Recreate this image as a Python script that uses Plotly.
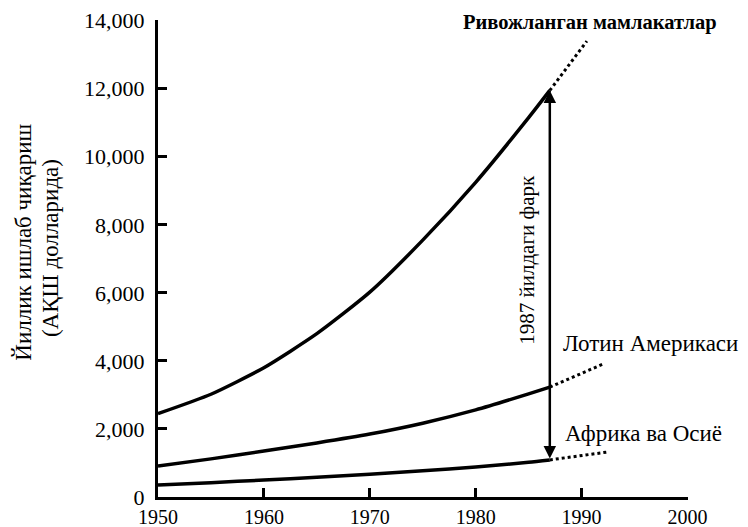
import plotly.graph_objects as go

# solid part of each curve
years = [1950, 1955, 1960, 1965, 1970, 1975, 1980, 1985, 1987]
developed = [2450, 3020, 3800, 4800, 6020, 7550, 9250, 11150, 11950]
latin_america = [910, 1120, 1350, 1590, 1850, 2170, 2560, 3030, 3230]
africa_asia = [350, 420, 500, 580, 670, 770, 880, 1020, 1090]

# dotted projections after 1987
dev_proj_years = [1987, 1990.5]
dev_proj = [11950, 13400]
la_proj_years = [1987, 1992.2]
la_proj = [3230, 3930]
af_proj_years = [1987, 1992.4]
af_proj = [1090, 1320]

x_ticks = [1950, 1960, 1970, 1980, 1990, 2000]
y_ticks = [0, 2000, 4000, 6000, 8000, 10000, 12000, 14000]
y_tick_text = ["0", "2,000", "4,000", "6,000", "8,000", "10,000", "12,000", "14,000"]

gap_year = 1987

FONT = "Liberation Serif, Times New Roman, serif"

fig = go.Figure()

for ys in (developed, latin_america, africa_asia):
    fig.add_trace(go.Scatter(x=years, y=ys, mode="lines",
                             line=dict(color="black", width=3.5,
                                       shape="spline", smoothing=0.6),
                             showlegend=False, hoverinfo="skip"))

for xs, ys in ((dev_proj_years, dev_proj), (la_proj_years, la_proj),
               (af_proj_years, af_proj)):
    fig.add_trace(go.Scatter(x=xs, y=ys, mode="lines",
                             line=dict(color="black", width=3, dash="dot"),
                             showlegend=False, hoverinfo="skip"))

# double headed arrow for the 1987 gap
fig.add_annotation(x=gap_year, y=developed[-1], ax=gap_year, ay=africa_asia[-1],
                   xref="x", yref="y", axref="x", ayref="y", text="",
                   showarrow=True, arrowhead=2, arrowsize=1, arrowwidth=2.5,
                   arrowside="end+start", arrowcolor="black")

fig.add_annotation(x=1984.9, y=6960, xref="x", yref="y",
                   text="1987 йилдаги фарк", textangle=-90, showarrow=False,
                   font=dict(family=FONT, size=21, color="black"))

fig.add_annotation(x=1978.6, y=13950, xref="x", yref="y",
                   text="<b>Ривожланган мамлакатлар</b>", xanchor="left",
                   showarrow=False,
                   font=dict(family=FONT, size=20.5, color="black"))
fig.add_annotation(x=1988.1, y=4520, xref="x", yref="y",
                   text="Лотин Америкаси", xanchor="left", showarrow=False,
                   font=dict(family=FONT, size=23, color="black"))
fig.add_annotation(x=1988.2, y=1880, xref="x", yref="y",
                   text="Африка ва Осиё", xanchor="left", showarrow=False,
                   font=dict(family=FONT, size=23, color="black"))

# y axis title, two lines
fig.add_annotation(x=-0.253, y=0.535, xref="paper", yref="paper",
                   text="Йиллик ишлаб чиқариш",
                   textangle=-90, showarrow=False, xanchor="center",
                   yanchor="middle",
                   font=dict(family=FONT, size=23, color="black"))
fig.add_annotation(x=-0.2037, y=0.522, xref="paper", yref="paper",
                   text="(АҚШ долларида)",
                   textangle=-90, showarrow=False, xanchor="center",
                   yanchor="middle",
                   font=dict(family=FONT, size=23, color="black"))

fig.update_xaxes(range=[1950, 2000.05], tickvals=x_ticks, automargin=False,
                 showline=True, linewidth=3, linecolor="black",
                 ticks="inside", ticklen=9, tickwidth=3, tickcolor="black",
                 showgrid=False, zeroline=False, ticklabelstandoff=0,
                 ticklabeloverflow="allow",
                 tickfont=dict(family=FONT, size=20, color="black"))
fig.update_yaxes(range=[0, 14020], tickvals=y_ticks, ticktext=y_tick_text,
                 automargin=False,
                 showline=True, linewidth=3, linecolor="black",
                 ticks="inside", ticklen=9, tickwidth=3, tickcolor="black",
                 showgrid=False, zeroline=False, ticklabelstandoff=6,
                 ticklabeloverflow="allow",
                 tickfont=dict(family=FONT, size=22, color="black"))

# the page body adds an 8px offset, so margins are shifted to compensate
fig.update_layout(
    width=748, height=527,
    margin=dict(l=150, r=68, t=12, b=38),
    plot_bgcolor="white", paper_bgcolor="white",
    font=dict(family=FONT, color="black"),
)

fig.write_html("out.html")
